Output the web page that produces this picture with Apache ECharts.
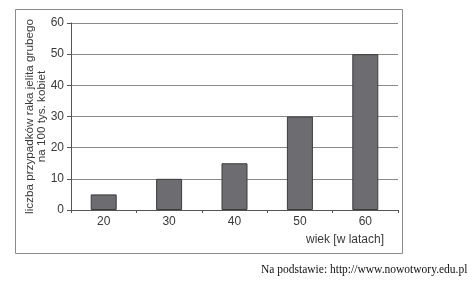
<!DOCTYPE html>
<html><head><meta charset="utf-8">
<script src="https://cdn.jsdelivr.net/npm/echarts@6/dist/echarts.min.js"></script>
<style>html,body{margin:0;padding:0;background:#fff}#c{width:474px;height:282px}</style>
</head><body><div id="c"></div>
<script>
const categories = ['20', '30', '40', '50', '60'];
const values = [5, 10, 15, 30, 50];
const yTicks = [0, 10, 20, 30, 40, 50, 60];
const yTitle = 'liczba przypadków raka jelita grubego\nna 100 tys. kobiet';
const xTitle = 'wiek [w latach]';
const sourceText = 'Na podstawie: http://www.nowotwory.edu.pl';

const chart = echarts.init(document.getElementById('c'), null, {renderer: 'canvas'});
chart.setOption({
  animation: false,
  backgroundColor: '#fff',
  grid: {left: 71, right: 76, top: 23, bottom: 72, containLabel: false},
  xAxis: {
    type: 'category',
    data: categories,
    axisLine: {lineStyle: {color: '#555', width: 1}},
    axisTick: {show: true, alignWithLabel: false, length: 3, lineStyle: {color: '#555'}},
    axisLabel: {color: '#3a3a3a', fontFamily: 'Liberation Sans, Arial', fontSize: 12, margin: 6}
  },
  yAxis: {
    type: 'value',
    min: yTicks[0], max: yTicks[yTicks.length - 1], interval: 10,
    name: yTitle,
    nameLocation: 'middle',
    nameGap: 23,
    nameRotate: 90,
    nameMoveOverlap: false,
    nameTextStyle: {color: '#3a3a3a', fontFamily: 'Liberation Sans, Arial', fontSize: 11.7, lineHeight: 12, align: 'center'},
    axisLine: {show: true, lineStyle: {color: '#555', width: 1}},
    axisTick: {show: true, length: 4, lineStyle: {color: '#555'}},
    axisLabel: {color: '#3a3a3a', fontFamily: 'Liberation Sans, Arial', fontSize: 12, margin: 7},
    splitLine: {show: true, lineStyle: {color: '#8a8a8a', width: 1}}
  },
  series: [{
    type: 'bar',
    data: values,
    barWidth: 26,
    itemStyle: {color: '#6c6c71', borderColor: '#3c3c3c', borderWidth: 1}
  }],
  graphic: [
    {type: 'rect', shape: {x: 15.5, y: 9.5, width: 387, height: 244},
     style: {fill: null, stroke: '#8a8a8a', lineWidth: 1}, z: -1, silent: true},
    {type: 'text', right: 474 - 384, top: 234,
     style: {text: xTitle, fill: '#3a3a3a', font: '12px "Liberation Sans", Arial', textAlign: 'right'}},
    {type: 'text', left: 261, top: 264,
     style: {text: sourceText, fill: '#111', font: '11.5px "Liberation Serif", "Times New Roman", serif'}}
  ]
});
</script></body></html>
